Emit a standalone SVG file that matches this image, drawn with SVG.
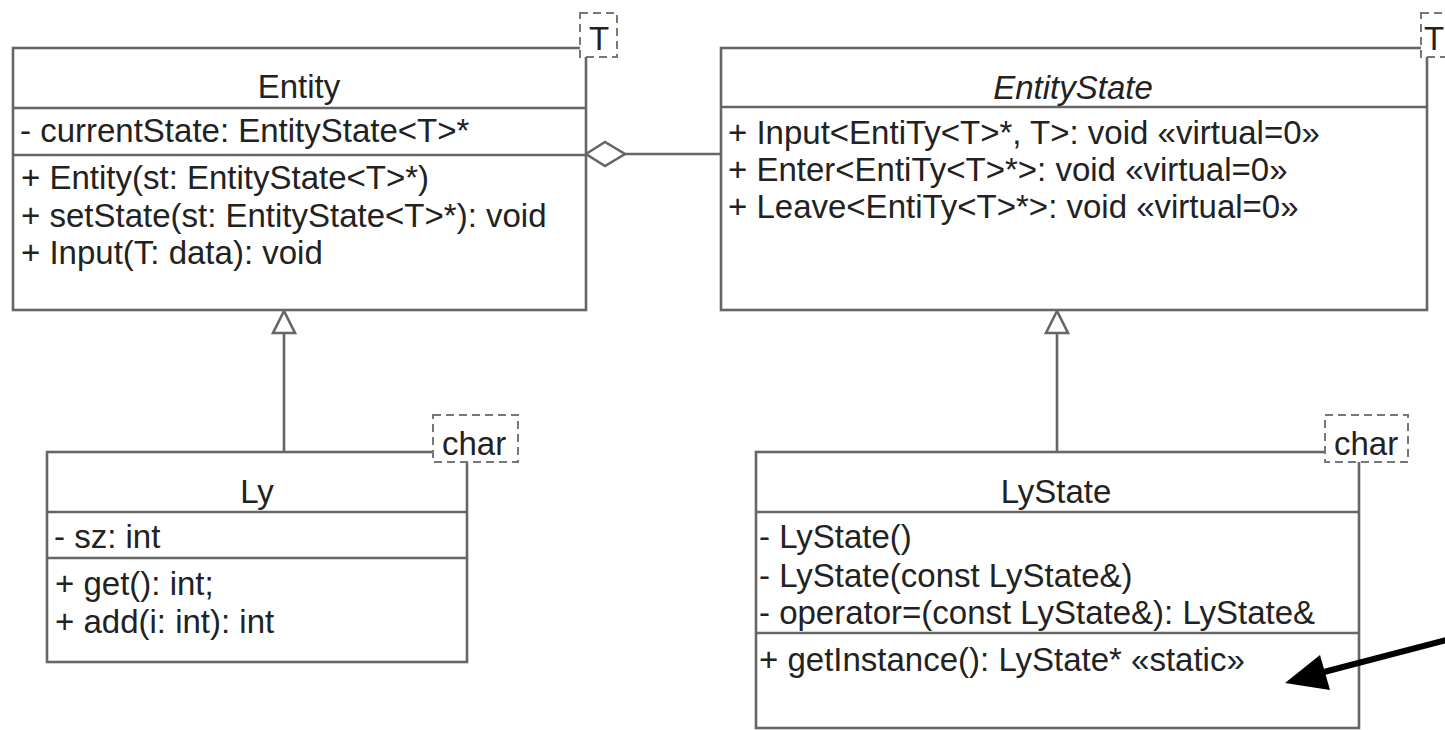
<svg xmlns="http://www.w3.org/2000/svg" width="1445" height="730" viewBox="0 0 1445 730">
<defs>
<style>
.box{fill:#fff;stroke:#666;stroke-width:2.6}
.div{stroke:#666;stroke-width:2.6;fill:none}
.tpl{fill:#fff;stroke:#777;stroke-width:2;stroke-dasharray:8 5}
.t{font-family:"Liberation Sans",Arial,sans-serif;font-size:33px;fill:#222}
.c{text-anchor:middle}
.i{font-style:italic}
.line{stroke:#666;stroke-width:2.6;fill:none}
.tri{fill:#fff;stroke:#666;stroke-width:2.6;stroke-linejoin:miter}
</style>
</defs>
<rect width="1445" height="730" fill="#fff"/>

<g id="connectors">
<line class="line" x1="625" y1="154" x2="721" y2="154"/>
<polygon class="tri" points="586,154 605,142 625,154 605,166"/>
<line class="line" x1="284" y1="333" x2="284" y2="452"/>
<polygon class="tri" points="284,311 273,333 295,333"/>
<line class="line" x1="1057" y1="333" x2="1057" y2="452"/>
<polygon class="tri" points="1057,311 1046,333 1068,333"/>
</g>

<g id="node-entity">
<rect class="box" x="13" y="48" width="573" height="262"/>
<line class="div" x1="13" y1="108" x2="586" y2="108"/>
<line class="div" x1="13" y1="155" x2="586" y2="155"/>
<text class="t c" x="299" y="98">Entity</text>
<text class="t" x="20" y="142">- currentState: EntityState&lt;T&gt;*</text>
<text class="t" x="21" y="189">+ Entity(st: EntityState&lt;T&gt;*)</text>
<text class="t" x="21" y="227">+ setState(st: EntityState&lt;T&gt;*): void</text>
<text class="t" x="21" y="264">+ Input(T: data): void</text>
<rect class="tpl" x="580" y="13" width="37" height="44"/>
<text class="t c" x="599" y="50">T</text>
</g>

<g id="node-entitystate">
<rect class="box" x="721" y="48" width="706" height="262"/>
<line class="div" x1="721" y1="107" x2="1427" y2="107"/>
<text class="t c i" x="1073" y="99">EntityState</text>
<text class="t" x="728" y="144">+ Input&lt;EntiTy&lt;T&gt;*, T&gt;: void «virtual=0»</text>
<text class="t" x="728" y="181">+ Enter&lt;EntiTy&lt;T&gt;*&gt;: void «virtual=0»</text>
<text class="t" x="728" y="218">+ Leave&lt;EntiTy&lt;T&gt;*&gt;: void «virtual=0»</text>
<rect class="tpl" x="1421" y="13" width="37" height="44"/>
<text class="t c" x="1434" y="50">T</text>
</g>

<g id="node-ly">
<rect class="box" x="47" y="452" width="420" height="210"/>
<line class="div" x1="47" y1="512" x2="467" y2="512"/>
<line class="div" x1="47" y1="558" x2="467" y2="558"/>
<text class="t c" x="257" y="503">Ly</text>
<text class="t" x="54" y="548">- sz: int</text>
<text class="t" x="55" y="595">+ get(): int;</text>
<text class="t" x="55" y="633">+ add(i: int): int</text>
<rect class="tpl" x="433" y="415" width="85" height="47"/>
<text class="t" x="442" y="455">char</text>
</g>

<g id="node-lystate">
<rect class="box" x="756" y="452" width="603" height="276"/>
<line class="div" x1="756" y1="512" x2="1359" y2="512"/>
<line class="div" x1="756" y1="633" x2="1359" y2="633"/>
<text class="t c" x="1056" y="503">LyState</text>
<text class="t" x="759" y="548">- LyState()</text>
<text class="t" x="759" y="587">- LyState(const LyState&amp;)</text>
<text class="t" x="759" y="624">- operator=(const LyState&amp;): LyState&amp;</text>
<text class="t" x="759" y="671">+ getInstance(): LyState* «static»</text>
<rect class="tpl" x="1325" y="415" width="83" height="47"/>
<text class="t" x="1334" y="455">char</text>
</g>

<g id="annotation-arrow">
<line x1="1450" y1="639" x2="1320" y2="673" stroke="#000" stroke-width="6"/>
<polygon points="1285,683 1320,655 1330,690" fill="#000"/>
</g>
</svg>
